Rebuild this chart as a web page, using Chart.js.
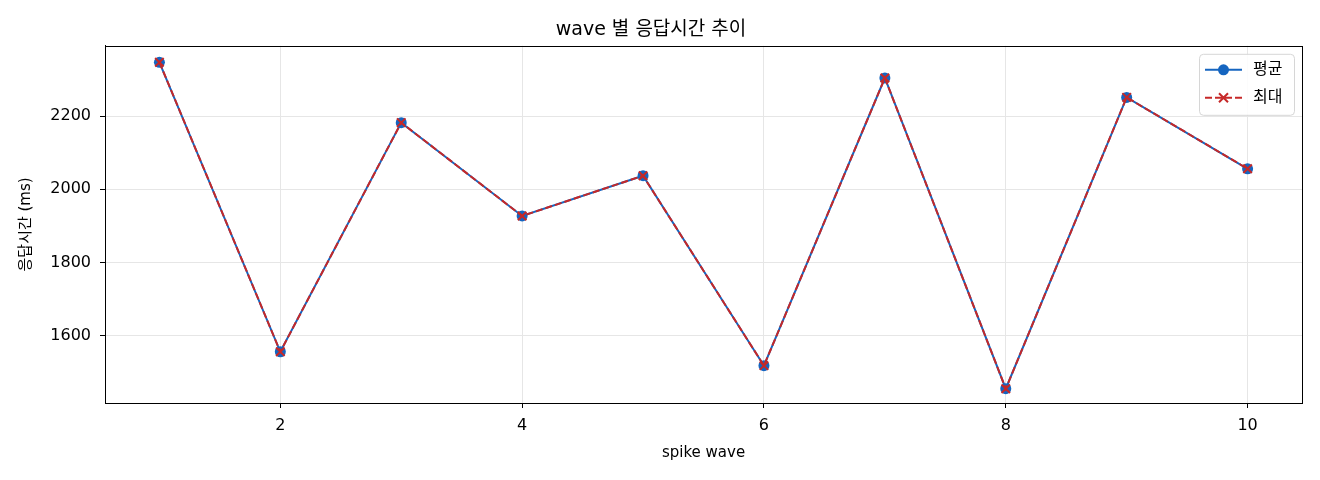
<!DOCTYPE html>
<html lang="ko">
<head>
    <meta charset="UTF-8">
    <title>wave 별 응답시간 추이</title>
    <style>
        body { margin: 0; background: #fff; }
        #wrap { width: 1320px; height: 480px; }
    </style>
</head>
<body>
    <div id="wrap">
        <canvas id="waveChart" width="1320" height="480"></canvas>
    </div>

    <script src="https://cdn.jsdelivr.net/npm/chart.js"></script>
    <script>
        // data
        const waves = [1, 2, 3, 4, 5, 6, 7, 8, 9, 10];
        const avgMs = [2347, 1556, 2182, 1927, 2037, 1518, 2304, 1455, 2251, 2056];
        const maxMs = [2347, 1556, 2182, 1927, 2037, 1518, 2304, 1455, 2251, 2056];
        const xTicks = [2, 4, 6, 8, 10];
        const yTicks = [1600, 1800, 2000, 2200];

        const FONT = '"DejaVu Sans", "Noto Sans CJK KR", sans-serif';
        const BLUE = '#1565c0';
        const RED = '#c62828';

        const toPoints = vals => waves.map((w, i) => ({ x: w, y: vals[i] }));

        // box around the plot area, like matplotlib
        const framePlugin = {
            id: 'frame',
            afterDatasetsDraw(chart) {
                const { ctx, chartArea: a } = chart;
                ctx.save();
                ctx.strokeStyle = '#000';
                ctx.lineWidth = 1;
                ctx.strokeRect(Math.round(a.left) + 0.5, Math.round(a.top) + 0.5,
                    Math.round(a.right - a.left), Math.round(a.bottom - a.top));
                ctx.restore();
            }
        };

        // legend in the upper right corner inside the axes
        const legendPlugin = {
            id: 'innerLegend',
            afterDraw(chart) {
                const ctx = chart.ctx;
                const a = chart.chartArea;
                const w = 95, h = 61;
                const x = a.right - 8 - w, y = a.top + 8;
                ctx.save();
                ctx.beginPath();
                ctx.roundRect(x + 0.5, y + 0.5, w, h, 4);
                ctx.fillStyle = 'rgba(255,255,255,0.85)';
                ctx.fill();
                ctx.strokeStyle = '#d6d6d6';
                ctx.lineWidth = 1;
                ctx.stroke();

                const rows = [
                    { ds: chart.data.datasets[0], cy: y + 16 },
                    { ds: chart.data.datasets[1], cy: y + 44 }
                ];
                rows.forEach(r => {
                    const x0 = x + 6, x1 = x + 43, mx = (x0 + x1) / 2;
                    ctx.beginPath();
                    ctx.setLineDash(r.ds.borderDash || []);
                    ctx.strokeStyle = r.ds.borderColor;
                    ctx.lineWidth = r.ds.borderWidth;
                    ctx.moveTo(x0, r.cy);
                    ctx.lineTo(x1, r.cy);
                    ctx.stroke();
                    ctx.setLineDash([]);
                    if (r.ds.pointStyle === 'circle') {
                        ctx.fillStyle = r.ds.borderColor;
                        ctx.beginPath();
                        ctx.arc(mx, r.cy, r.ds.pointRadius, 0, Math.PI * 2);
                        ctx.fill();
                    } else {
                        ctx.strokeStyle = r.ds.borderColor;
                        ctx.lineWidth = r.ds.pointBorderWidth;
                        const d = r.ds.pointRadius * 0.75;
                        ctx.beginPath();
                        ctx.moveTo(mx - d, r.cy - d); ctx.lineTo(mx + d, r.cy + d);
                        ctx.moveTo(mx - d, r.cy + d); ctx.lineTo(mx + d, r.cy - d);
                        ctx.stroke();
                    }
                    ctx.fillStyle = '#000';
                    ctx.font = '16px ' + FONT;
                    ctx.textBaseline = 'middle';
                    ctx.textAlign = 'left';
                    ctx.fillText(r.ds.label, x + 54, r.cy);
                });
                ctx.restore();
            }
        };

        const ctx = document.getElementById('waveChart').getContext('2d');
        const waveChart = new Chart(ctx, {
            type: 'line',
            data: {
                datasets: [{
                    label: '평균',
                    data: toPoints(avgMs),
                    borderColor: BLUE,
                    backgroundColor: BLUE,
                    borderWidth: 2,
                    pointStyle: 'circle',
                    pointRadius: 5.5,
                    pointBorderWidth: 0,
                    pointBackgroundColor: BLUE,
                    pointBorderColor: BLUE,
                    tension: 0,
                    order: 2
                }, {
                    label: '최대',
                    data: toPoints(maxMs),
                    borderColor: RED,
                    backgroundColor: RED,
                    borderWidth: 2,
                    borderDash: [7, 3],
                    pointStyle: 'crossRot',
                    pointRadius: 6,
                    pointBorderWidth: 2,
                    pointBorderColor: RED,
                    tension: 0,
                    order: 1
                }]
            },
            options: {
                responsive: false,
                animation: false,
                devicePixelRatio: 1,
                layout: { padding: { left: 0, right: 18, top: 0, bottom: 0 } },
                plugins: {
                    legend: { display: false },
                    tooltip: { enabled: false },
                    title: {
                        display: true,
                        text: 'wave 별 응답시간 추이',
                        color: '#000',
                        font: { family: FONT, size: 19, weight: 'normal' },
                        padding: { top: 19, bottom: 4 }
                    }
                },
                scales: {
                    x: {
                        type: 'linear',
                        min: 0.55,
                        max: 10.45,
                        afterBuildTicks: s => { s.ticks = xTicks.map(v => ({ value: v })); },
                        afterFit: s => { s.height = 77; },
                        grid: { color: '#e6e6e6', tickColor: '#000', tickLength: 5 },
                        border: { color: '#000', width: 1 },
                        ticks: { color: '#000', font: { family: FONT, size: 16 }, padding: 8, maxRotation: 0,
                                 callback: v => String(v) },
                        title: {
                            display: true,
                            text: 'spike wave',
                            color: '#000',
                            font: { family: FONT, size: 15 },
                            padding: { top: 0, bottom: 18 }
                        }
                    },
                    y: {
                        min: 1416,
                        max: 2392,
                        afterBuildTicks: s => { s.ticks = yTicks.map(v => ({ value: v })); },
                        afterFit: s => { s.width = 105; },
                        grid: { color: '#e6e6e6', tickColor: '#000', tickLength: 5 },
                        border: { color: '#000', width: 1 },
                        ticks: { color: '#000', font: { family: FONT, size: 16 }, padding: 9,
                                 callback: v => String(v) },
                        title: {
                            display: true,
                            text: '응답시간 (ms)',
                            color: '#000',
                            font: { family: FONT, size: 15 },
                            padding: { top: 17, bottom: 0 }
                        }
                    }
                }
            },
            plugins: [framePlugin, legendPlugin]
        });
    </script>
</body>
</html>
